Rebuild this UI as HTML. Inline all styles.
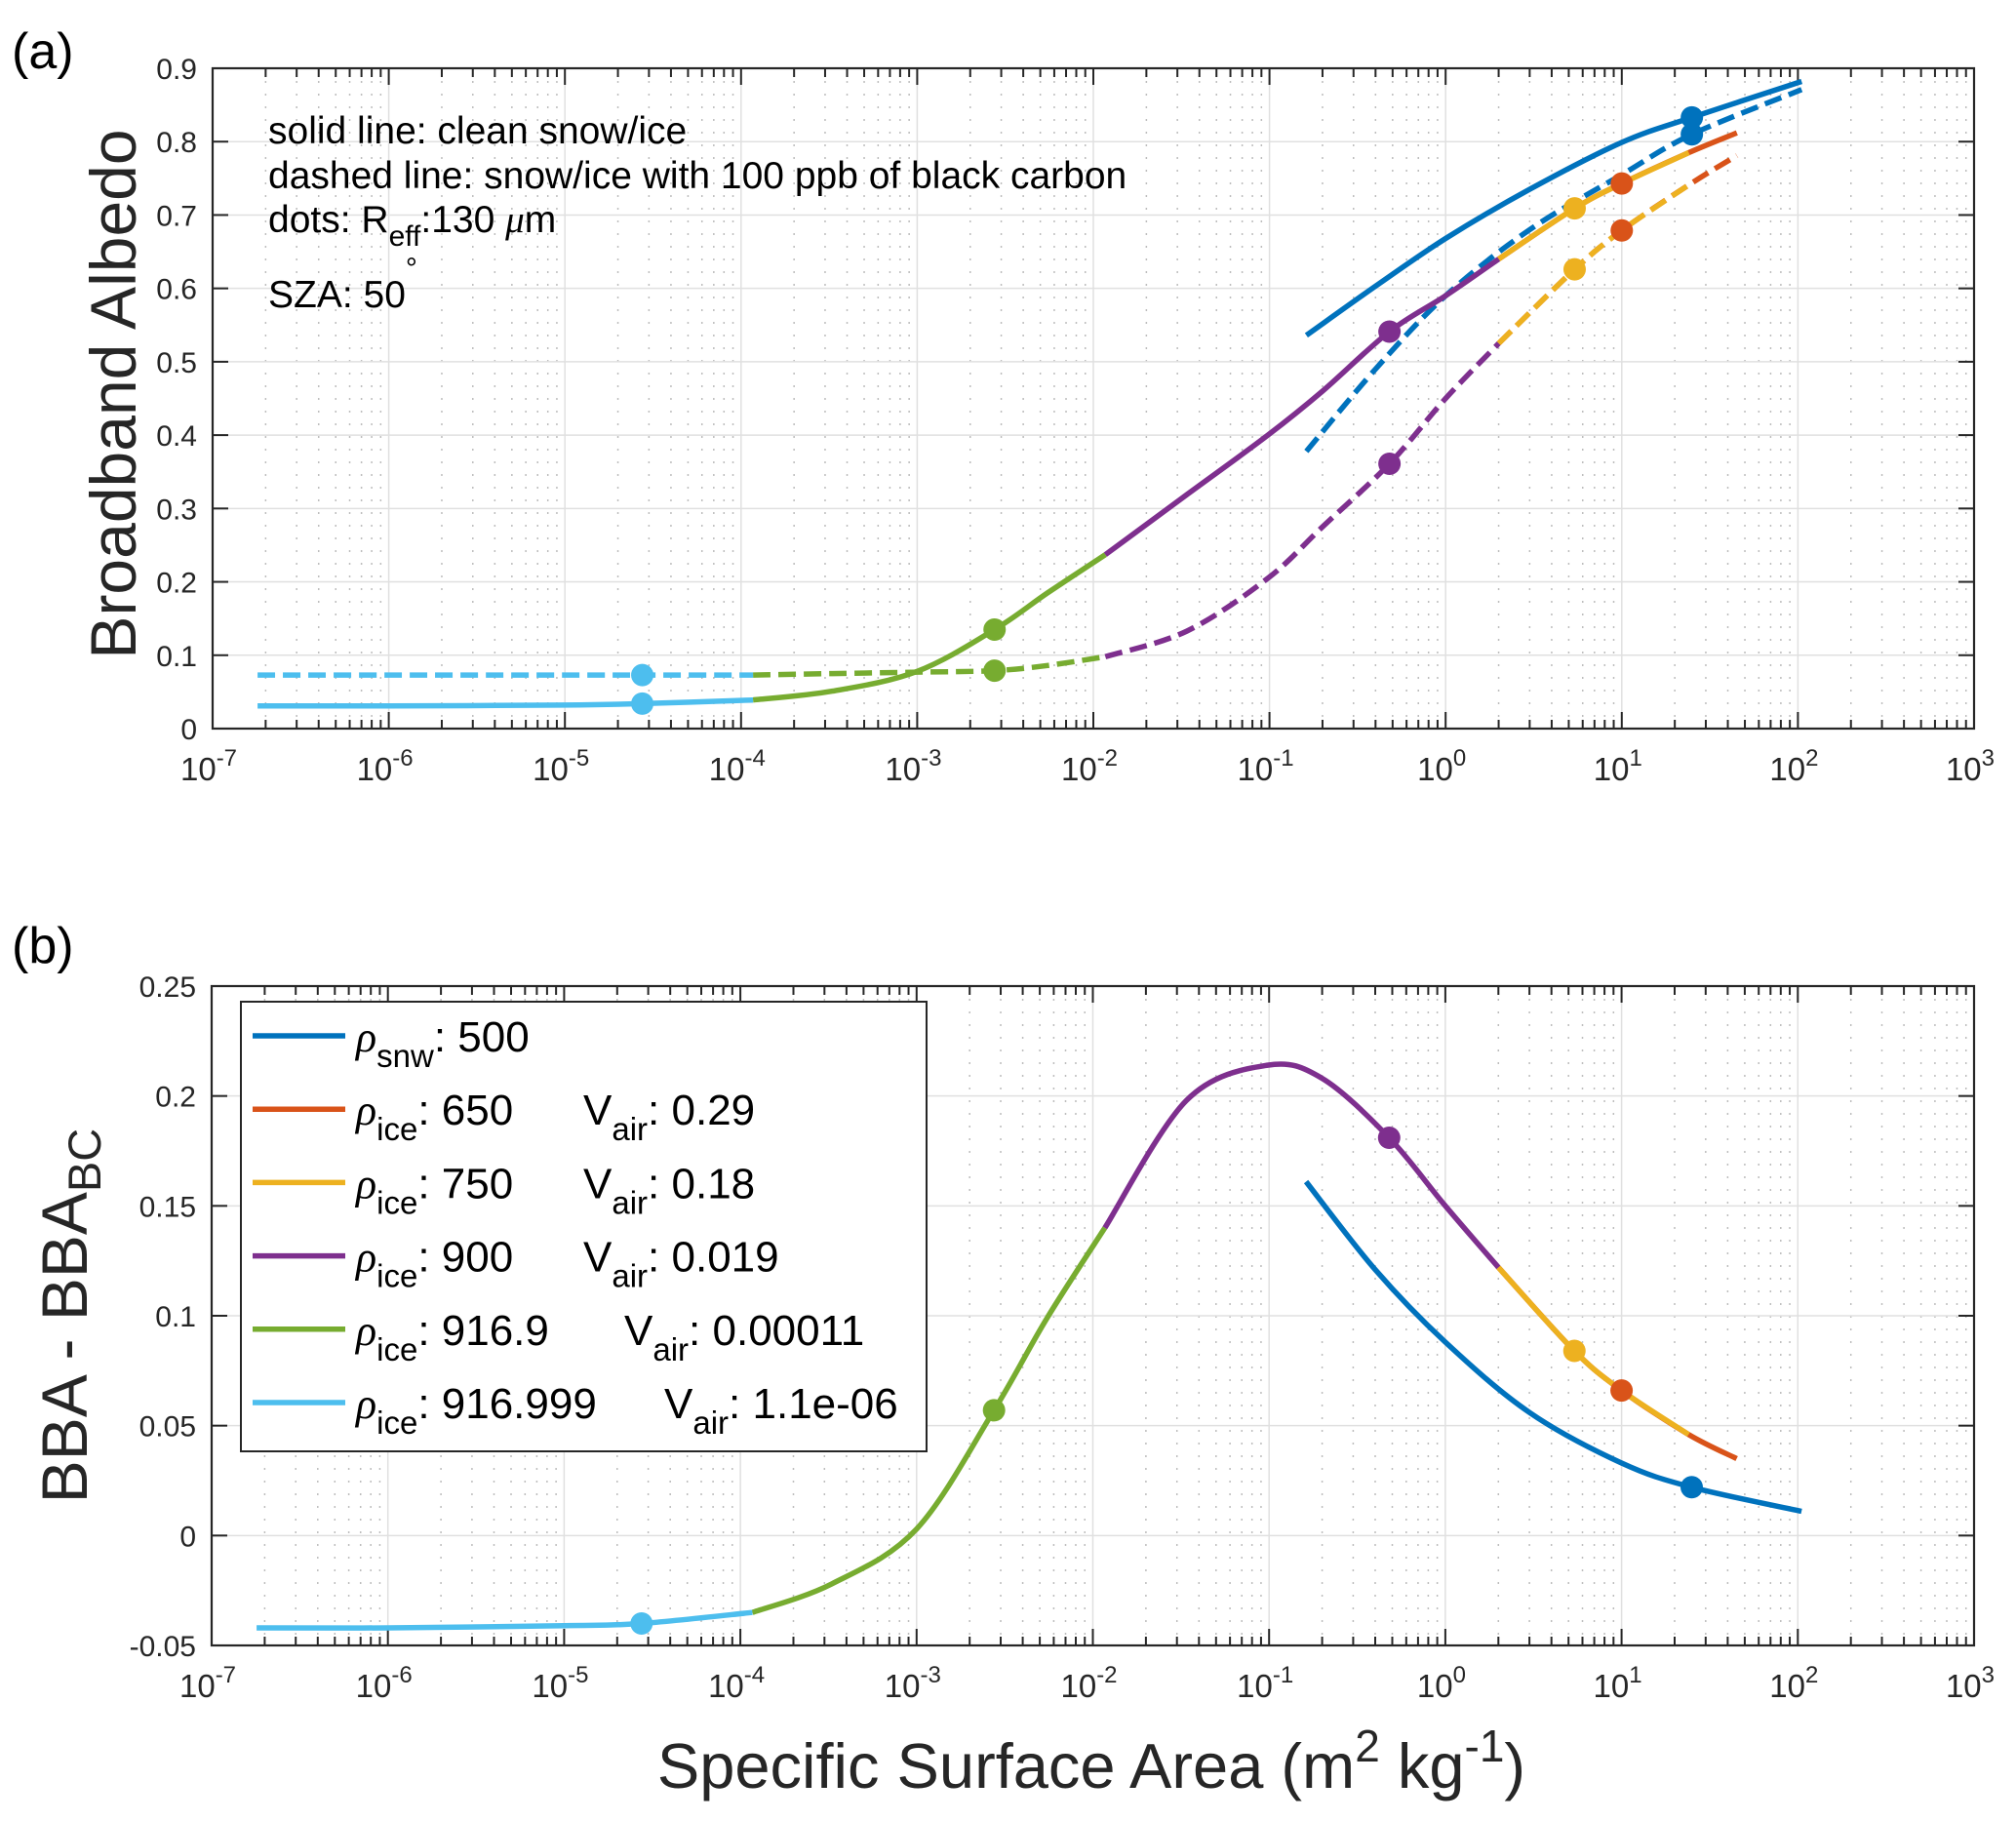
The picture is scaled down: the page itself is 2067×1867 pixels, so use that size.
<!DOCTYPE html>
<html><head><meta charset="utf-8"><title>Broadband albedo vs SSA</title>
<style>
html,body{margin:0;padding:0;background:#fff;}
svg{display:block;font-family:"Liberation Sans",Arial,sans-serif;}
</style></head>
<body>
<svg id="fig" xmlns="http://www.w3.org/2000/svg" width="2067" height="1867" viewBox="0 0 2067 1867">
<rect x="0" y="0" width="2067" height="1867" fill="#fff"/>
<text x="12" y="70" font-size="52" fill="#000">(a)</text>
<text x="12" y="987" font-size="52" fill="#000">(b)</text>
<g id="pa"></g>
<g id="pb"></g>
<text transform="translate(139,404) rotate(-90)" text-anchor="middle" font-size="66" fill="#262626">Broadband Albedo</text>
<text transform="translate(89,1349) rotate(-90)" text-anchor="middle" font-size="66" fill="#262626">BBA - BBA<tspan font-size="47" dy="14">BC</tspan></text>
<text x="1119" y="1833" text-anchor="middle" font-size="65" fill="#262626">Specific Surface Area (m<tspan font-size="46" dy="-27">2</tspan><tspan dy="27"> kg</tspan><tspan font-size="46" dy="-27">-1</tspan><tspan dy="27">)</tspan></text>
<g font-size="39" fill="#000">
<text x="275" y="147">solid line: clean snow/ice</text>
<text x="275" y="193">dashed line: snow/ice with 100 ppb of black carbon</text>
<text x="275" y="238">dots: R<tspan font-size="30" dy="14">eff</tspan><tspan dy="-14">:130 </tspan><tspan font-style="italic" font-family="Liberation Serif, serif">μ</tspan>m</text>
<text x="275" y="315">SZA: 50<tspan font-size="30" dy="-30">°</tspan></text>
</g>
<g id="legend"></g>
</svg>
<script>
// ---- data (SSA in m^2/kg; albedo values) ----
const xTickExps = [-7,-6,-5,-4,-3,-2,-1,0,1,2,3];
const yTicksA = [0,0.1,0.2,0.3,0.4,0.5,0.6,0.7,0.8,0.9];
const yTickLabelsA = ["0","0.1","0.2","0.3","0.4","0.5","0.6","0.7","0.8","0.9"];
const yTicksB = [-0.05,0,0.05,0.1,0.15,0.2,0.25];
const yTickLabelsB = ["-0.05","0","0.05","0.1","0.15","0.2","0.25"];

const ssaBlue = [0.162,0.4,1,3,10,25,105];
const cleanBlue = [0.536,0.603,0.668,0.735,0.799,0.833,0.882];
const bcBlue = [0.378,0.49,0.59,0.68,0.755,0.81,0.871];
const diffBlue = [0.161,0.121,0.088,0.056,0.033,0.022,0.011];
const dotBlue = 25;

const ssaOrange = [2.0,5.4,10,24,45];
const cleanOrange = [0.64,0.709,0.743,0.785,0.812];
const bcOrange = [0.525,0.626,0.679,0.741,0.781];
const diffOrange = [0.122,0.084,0.066,0.046,0.035];
const dotOrange = 10;

const ssaYellow = [2.0,5.4,10,24];
const cleanYellow = [0.64,0.709,0.743,0.785];
const bcYellow = [0.525,0.626,0.679,0.741];
const diffYellow = [0.122,0.084,0.066,0.046];
const dotYellow = 5.4;

const ssaPurple = [0.0117,0.034,0.098,0.2,0.48,1.0,2.0];
const cleanPurple = [0.237,0.319,0.40,0.46,0.541,0.59,0.64];
const bcPurple = [0.098,0.133,0.205,0.275,0.361,0.45,0.525];
const diffPurple = [0.14,0.198,0.214,0.208,0.181,0.15,0.122];
const dotPurple = 0.48;

const ssaGreen = [0.000117,0.00033,0.001,0.00275,0.0055,0.0117];
const cleanGreen = [0.039,0.051,0.078,0.135,0.185,0.237];
const bcGreen = [0.073,0.075,0.077,0.079,0.086,0.098];
const diffGreen = [-0.035,-0.022,0.003,0.057,0.099,0.14];
const dotGreen = 0.00275;

const ssaLight = [1.8e-7,1e-6,1e-5,2.75e-5,0.000117];
const cleanLight = [0.031,0.031,0.032,0.034,0.039];
const bcLight = [0.073,0.073,0.073,0.073,0.073];
const diffLight = [-0.042,-0.042,-0.041,-0.040,-0.035];
const dotLight = 2.75e-5;

const legendLabels = [
  ["snw","500","",""],
  ["ice","650","V","0.29"],
  ["ice","750","V","0.18"],
  ["ice","900","V","0.019"],
  ["ice","916.9","V","0.00011"],
  ["ice","916.999","V","1.1e-06"]
];

// ---- drawing ----
const NS = "http://www.w3.org/2000/svg";
const COL = {blue:"#0072BD",orange:"#D95319",yellow:"#EDB120",purple:"#7E2F8E",green:"#77AC30",light:"#4DBEEE"};
const PA = {L:218,R:2024,T:70,B:747,ymin:0,ymax:0.9,g:document.getElementById('pa')};
const PB = {L:217,R:2024,T:1011,B:1687,ymin:-0.05,ymax:0.25,g:document.getElementById('pb')};

function mk(tag, attrs, parent){
  const e = document.createElementNS(NS, tag);
  for (const k in attrs) e.setAttribute(k, attrs[k]);
  parent.appendChild(e);
  return e;
}
function X(p, ssa){ return p.L + (Math.log10(ssa)+7)/10*(p.R-p.L); }
function Y(p, v){ return p.B - (v-p.ymin)/(p.ymax-p.ymin)*(p.B-p.T); }

function smoothPath(pts){
  let d = "M"+pts[0][0].toFixed(1)+","+pts[0][1].toFixed(1);
  for (let i=0;i<pts.length-1;i++){
    const p0 = pts[i-1]||pts[i], p1=pts[i], p2=pts[i+1], p3=pts[i+2]||pts[i+1];
    const c1=[p1[0]+(p2[0]-p0[0])/6, p1[1]+(p2[1]-p0[1])/6];
    const c2=[p2[0]-(p3[0]-p1[0])/6, p2[1]-(p3[1]-p1[1])/6];
    d += " C"+c1[0].toFixed(1)+","+c1[1].toFixed(1)+" "+c2[0].toFixed(1)+","+c2[1].toFixed(1)+" "+p2[0].toFixed(1)+","+p2[1].toFixed(1);
  }
  return d;
}
function interp(xs, ys, x){
  const lx = Math.log10(x);
  for (let i=0;i<xs.length-1;i++){
    const a=Math.log10(xs[i]), b=Math.log10(xs[i+1]);
    if (lx>=a && lx<=b){ return ys[i]+(ys[i+1]-ys[i])*(lx-a)/(b-a); }
  }
  return ys[ys.length-1];
}

function drawAxes(p, yTicks, yLabels, tag){
  const g = p.g;
  const grid = mk('g',{},g);
  
  
  for (let e=-7;e<3;e++){
    for (let m=2;m<=9;m++){
      const x = X(p, m*Math.pow(10,e));
      mk('line',{x1:x,y1:p.T,x2:x,y2:p.B,stroke:"#bdbdbd","stroke-width":1.5,"stroke-dasharray":"2 11"},grid);
    }
  }
  xTickExps.forEach(e=>{
    const x = X(p, Math.pow(10,e));
    mk('line',{x1:x,y1:p.T,x2:x,y2:p.B,stroke:"#e0e0e0","stroke-width":1.5},grid);
  });
  yTicks.forEach(v=>{
    const y = Y(p,v);
    mk('line',{x1:p.L,y1:y,x2:p.R,y2:y,stroke:"#e0e0e0","stroke-width":1.5},grid);
  });
  const box = mk('rect',{x:p.L,y:p.T,width:p.R-p.L,height:p.B-p.T,fill:"none",stroke:"#262626","stroke-width":2.2},g);
  
  
  const ticks = mk('g',{stroke:"#262626","stroke-width":2},g);
  
  
  for (let e=-7;e<3;e++){
    for (let m=2;m<=9;m++){
      const x = X(p, m*Math.pow(10,e));
      mk('line',{x1:x,y1:p.B,x2:x,y2:p.B-9},ticks);
      mk('line',{x1:x,y1:p.T,x2:x,y2:p.T+9},ticks);
    }
  }
  xTickExps.forEach(e=>{
    const x = X(p, Math.pow(10,e));
    mk('line',{x1:x,y1:p.B,x2:x,y2:p.B-17},ticks);
    mk('line',{x1:x,y1:p.T,x2:x,y2:p.T+17},ticks);
  });
  yTicks.forEach(v=>{
    const y = Y(p,v);
    mk('line',{x1:p.L,y1:y,x2:p.L+16,y2:y},ticks);
    mk('line',{x1:p.R,y1:y,x2:p.R-16,y2:y},ticks);
  });
  const xl = mk('g',{"font-size":33,fill:"#262626"},g);
  
  
  xTickExps.forEach(e=>{
    const x = X(p, Math.pow(10,e));
    const t = mk('text',{x:x-4,y:p.B+53,"text-anchor":"middle"},xl);
    
    
    t.textContent = "10";
    const s = document.createElementNS(NS,'tspan');
    s.setAttribute('font-size','24'); s.setAttribute('dy','-15');
    s.textContent = String(e);
    t.appendChild(s);
  });
  const yl = mk('g',{"font-size":30,fill:"#262626","text-anchor":"end"},g);
  
  
  yTicks.forEach((v,i)=>{
    const t = mk('text',{x:p.L-16,y:Y(p,v)+11},yl);
    
    
    t.textContent = yLabels[i];
  });
}

function drawLine(p, xs, ys, color, dashed, name){
  const pts = xs.map((s,i)=>[X(p,s), Y(p,ys[i])]);
  const attrs = {d:smoothPath(pts),fill:"none",stroke:color,"stroke-width":5.5,"stroke-linejoin":"round"};
  if (dashed) attrs["stroke-dasharray"]="18 8";
  const path = mk('path',attrs,p.g);
  
  
}
function drawDot(p, xs, ys, s, color, name){
  const c = mk('circle',{cx:X(p,s),cy:Y(p,interp(xs,ys,s)),r:11.5,fill:color},p.g);
  
  
}

drawAxes(PA, yTicksA, yTickLabelsA, 'panel-a');
drawAxes(PB, yTicksB, yTickLabelsB, 'panel-b');

const series = [
  {k:"blue",  ssa:ssaBlue,  c:cleanBlue,  b:bcBlue,  d:diffBlue,  dot:dotBlue},
  {k:"orange",ssa:ssaOrange,c:cleanOrange,b:bcOrange,d:diffOrange,dot:dotOrange},
  {k:"yellow",ssa:ssaYellow,c:cleanYellow,b:bcYellow,d:diffYellow,dot:dotYellow},
  {k:"purple",ssa:ssaPurple,c:cleanPurple,b:bcPurple,d:diffPurple,dot:dotPurple},
  {k:"green", ssa:ssaGreen, c:cleanGreen, b:bcGreen, d:diffGreen, dot:dotGreen},
  {k:"light", ssa:ssaLight, c:cleanLight, b:bcLight, d:diffLight, dot:dotLight}
];
series.forEach(s=>{
  drawLine(PA, s.ssa, s.b, COL[s.k], true, s.k+'-bc-albedo-line');
  drawLine(PA, s.ssa, s.c, COL[s.k], false, s.k+'-clean-albedo-line');
  drawLine(PB, s.ssa, s.d, COL[s.k], false, s.k+'-albedo-difference-line');
});
series.forEach(s=>{
  drawDot(PA, s.ssa, s.b, s.dot, COL[s.k], s.k+'-bc-dot');
  drawDot(PA, s.ssa, s.c, s.dot, COL[s.k], s.k+'-clean-dot');
  drawDot(PB, s.ssa, s.d, s.dot, COL[s.k], s.k+'-difference-dot');
});

const lg = document.getElementById('legend');
const lbox = mk('rect',{x:247,y:1027,width:703,height:461,fill:"#fff",stroke:"#262626","stroke-width":2},lg);


const keys = ["blue","orange","yellow","purple","green","light"];
const vx = [0,598,598,598,640,681];
legendLabels.forEach((L,i)=>{
  const cy = 1062 + i*75.2;
  const ent = mk('g',{},lg);
  
  
  mk('line',{x1:259,y1:cy,x2:354,y2:cy,stroke:COL[keys[i]],"stroke-width":5.5},ent);
  const t = mk('text',{x:365,y:cy+16,"font-size":44,fill:"#000"},ent);
  t.innerHTML = '<tspan font-style="italic" font-family="Liberation Serif, serif">ρ</tspan><tspan font-size="33" dy="16">'+L[0]+'</tspan><tspan dy="-16">: '+L[1]+'</tspan>';
  if (L[2]) {
    const t2 = mk('text',{x:vx[i],y:cy+16,"font-size":44,fill:"#000"},ent);
    t2.innerHTML = 'V<tspan font-size="33" dy="16">air</tspan><tspan dy="-16">: '+L[3]+'</tspan>';
  }
});
</script>
</body></html>
